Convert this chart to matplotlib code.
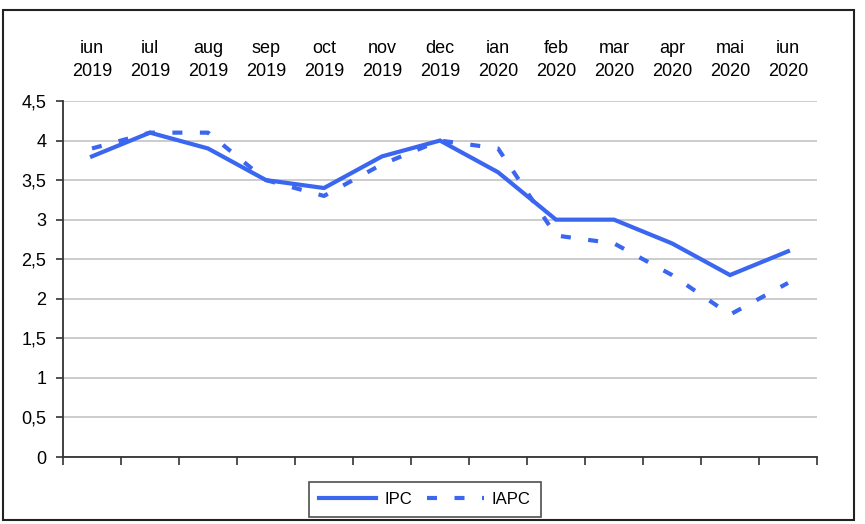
import matplotlib
matplotlib.use("Agg")
import matplotlib.pyplot as plt
from matplotlib.patches import Rectangle

plt.rcParams['font.family'] = ['Liberation Sans', 'DejaVu Sans']

# Data
months = ["iun\n2019", "iul\n2019", "aug\n2019", "sep\n2019", "oct\n2019", "nov\n2019",
          "dec\n2019", "ian\n2020", "feb\n2020", "mar\n2020", "apr\n2020", "mai\n2020",
          "iun\n2020"]
ipc = [3.8, 4.1, 3.9, 3.5, 3.4, 3.8, 4.0, 3.6, 3.0, 3.0, 2.7, 2.3, 2.6]
iapc = [3.9, 4.1, 4.1, 3.5, 3.3, 3.7, 4.0, 3.9, 2.8, 2.7, 2.3, 1.8, 2.2]
yticks = [0, 0.5, 1, 1.5, 2, 2.5, 3, 3.5, 4, 4.5]

blue = '#3a66f0'

fig = plt.figure(figsize=(8.65, 5.24), dpi=100)
ax = fig.add_axes([63 / 865, 67 / 524, (817 - 63) / 865, (457 - 101) / 524])

x = list(range(len(months)))
ax.plot(x, ipc, color=blue, lw=3.0, label='IPC', solid_joinstyle='miter')
ax.plot(x, iapc, color=blue, lw=3.0, linestyle=(0, (2.4, 4.2)), dash_capstyle='butt',
        label='IAPC')

ax.set_xlim(-0.5, len(months) - 0.5)
ax.set_ylim(0, 4.5)

# y axis with comma decimals
ax.set_yticks(yticks)
ax.set_yticklabels([f"{v:g}".replace('.', ',') for v in yticks])
ax.yaxis.grid(True, color='#c4c4c4', lw=1.2)
ax.set_axisbelow(True)

# category boundaries as ticks at bottom, labels on top
ax.set_xticks([i - 0.5 for i in range(len(months) + 1)])
ax.set_xticks(x, minor=True)
ax.set_xticklabels(months, minor=True, linespacing=1.45)
ax.tick_params(axis='x', which='major', bottom=True, labelbottom=False, length=6,
               width=1.2, color='#333333')
ax.tick_params(axis='x', which='minor', bottom=False, labelbottom=False, top=False,
               labeltop=True, length=0, pad=15, labelsize=13)
ax.tick_params(axis='y', length=5, width=1.2, color='#333333', labelsize=13, pad=7)

for s in ['top', 'right']:
    ax.spines[s].set_visible(False)
for s in ['left', 'bottom']:
    ax.spines[s].set_color('#333333')
    ax.spines[s].set_linewidth(1.3)

leg = fig.legend(loc='center', bbox_to_anchor=(425 / 865, 25 / 524), ncol=2,
                 frameon=True, fancybox=False, fontsize=12, handlelength=3.4,
                 columnspacing=0.9, handletextpad=0.5, borderpad=0.6)
leg.get_frame().set_edgecolor('#222222')
leg.get_frame().set_linewidth(1.2)

# outer border
fig.patches.append(Rectangle((3 / 865, 4 / 524), (854 - 3) / 865, (520 - 10) / 524,
                             transform=fig.transFigure, fill=False,
                             edgecolor='#222222', lw=1.5))

fig.savefig('out.png', dpi=100)
